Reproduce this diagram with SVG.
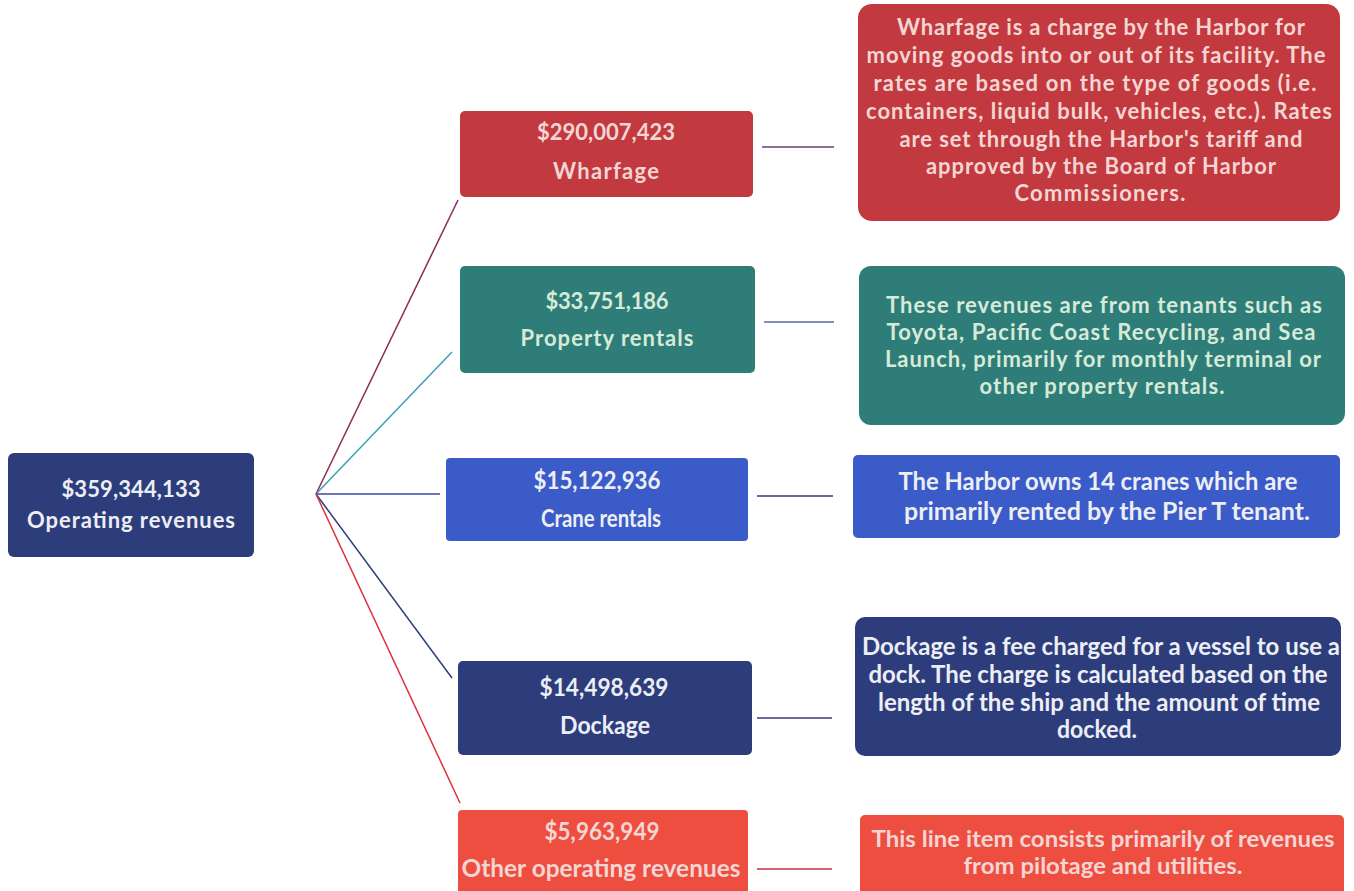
<svg xmlns="http://www.w3.org/2000/svg" width="1354" height="891" viewBox="0 0 1354 891">
<style>
text{font-family:Lato,"Open Sans","Liberation Sans",sans-serif;font-weight:bold;text-anchor:middle;fill:#eceef4}
.m{font-size:22px}
.d{font-size:22px}
.c{font-size:24px}
.s{font-size:22px}
.red{fill:#c23a3f}
.teal{fill:#2f7d78}
.blue{fill:#3a5bc8}
.navy{fill:#2d3d7c}
.orange{fill:#ee4e40}
.tr{fill:#f3d6d3}
.tt{fill:#d6ead8}
.conn line{stroke-width:1.5}
</style>
<rect width="1354" height="891" fill="#ffffff"/>
<g class="conn">
<line x1="316" y1="494" x2="458" y2="200" stroke="#8a2a55"/>
<line x1="316" y1="494" x2="452" y2="352" stroke="#3aa0b0"/>
<line x1="316" y1="494" x2="440" y2="494" stroke="#3a4aa0"/>
<line x1="316" y1="494" x2="452" y2="678" stroke="#2d3d7c"/>
<line x1="316" y1="494" x2="460" y2="803" stroke="#e03040"/>
<line x1="762" y1="147" x2="834" y2="147" stroke="#6b3a7a"/>
<line x1="764" y1="322" x2="834" y2="322" stroke="#5a6aa0"/>
<line x1="757" y1="496" x2="833" y2="496" stroke="#2d3d7c"/>
<line x1="757" y1="718" x2="832" y2="718" stroke="#3a3a80"/>
<line x1="757" y1="869" x2="832" y2="869" stroke="#c03040"/>
</g>
<g id="root">
<rect x="8" y="453" width="246" height="104" rx="6" class="navy"/>
<text x="131" y="497" class="m" textLength="139">$359,344,133</text>
<text x="131" y="528" class="m" textLength="208">Operating revenues</text>
</g>
<g id="wharfage">
<rect x="460" y="111" width="293" height="86" rx="5" class="red"/>
<text x="606" y="140" class="m tr" textLength="138">$290,007,423</text>
<text x="606" y="179" class="m tr" textLength="106">Wharfage</text>
</g>
<g id="property">
<rect x="460" y="266" width="295" height="107" rx="5" class="teal"/>
<text x="607" y="309" class="m tt" textLength="123">$33,751,186</text>
<text x="607" y="346" class="m tt" textLength="173">Property rentals</text>
</g>
<g id="crane">
<rect x="446" y="458" width="302" height="83" rx="4" class="blue"/>
<text x="597" y="489" class="c" textLength="127" lengthAdjust="spacingAndGlyphs">$15,122,936</text>
<text x="601" y="527" class="c" textLength="120" lengthAdjust="spacingAndGlyphs">Crane rentals</text>
</g>
<g id="dockage">
<rect x="458" y="661" width="294" height="94" rx="5" class="navy"/>
<text x="604" y="696" class="c" textLength="129" lengthAdjust="spacingAndGlyphs">$14,498,639</text>
<text x="605" y="734" class="c" textLength="90" lengthAdjust="spacingAndGlyphs">Dockage</text>
</g>
<g id="other">
<rect x="458" y="810" width="290" height="90" rx="4" class="orange"/>
<text x="602" y="840" class="c tr" textLength="115" lengthAdjust="spacingAndGlyphs">$5,963,949</text>
<text x="601" y="877" class="c tr" textLength="279" lengthAdjust="spacingAndGlyphs">Other operating revenues</text>
</g>
<g id="wharfage-desc">
<rect x="858" y="4" width="482" height="217" rx="14" class="red"/>
<text x="1101" y="35" class="d tr" textLength="408">Wharfage is a charge by the Harbor for</text>
<text x="1096" y="63" class="d tr" textLength="459">moving goods into or out of its facility. The</text>
<text x="1095" y="91" class="d tr" textLength="443">rates are based on the type of goods (i.e.</text>
<text x="1099" y="119" class="d tr" textLength="466">containers, liquid bulk, vehicles, etc.). Rates</text>
<text x="1101" y="147" class="d tr" textLength="403">are set through the Harbor's tariff and</text>
<text x="1101" y="174" class="d tr" textLength="350">approved by the Board of Harbor</text>
<text x="1100" y="201" class="d tr" textLength="171">Commissioners.</text>
</g>
<g id="property-desc">
<rect x="859" y="266" width="486" height="159" rx="12" class="teal"/>
<text x="1104" y="313" class="d tt" textLength="436">These revenues are from tenants such as</text>
<text x="1101" y="340" class="d tt" textLength="429">Toyota, Pacific Coast Recycling, and Sea</text>
<text x="1103" y="367" class="d tt" textLength="436">Launch, primarily for monthly terminal or</text>
<text x="1102" y="394" class="d tt" textLength="245">other property rentals.</text>
</g>
<g id="crane-desc">
<rect x="853" y="455" width="487" height="83" rx="5" class="blue"/>
<text x="1098" y="490" class="c" textLength="399" lengthAdjust="spacingAndGlyphs">The Harbor owns 14 cranes which are</text>
<text x="1107" y="520" class="c" textLength="406" lengthAdjust="spacingAndGlyphs">primarily rented by the Pier T tenant.</text>
</g>
<g id="dockage-desc">
<rect x="855" y="617" width="486" height="139" rx="10" class="navy"/>
<text x="1101" y="655" class="c" textLength="478" lengthAdjust="spacingAndGlyphs">Dockage is a fee charged for a vessel to use a</text>
<text x="1098" y="683" class="c" textLength="459" lengthAdjust="spacingAndGlyphs">dock. The charge is calculated based on the</text>
<text x="1099" y="711" class="c" textLength="442" lengthAdjust="spacingAndGlyphs">length of the ship and the amount of time</text>
<text x="1097" y="738" class="c" textLength="80" lengthAdjust="spacingAndGlyphs">docked.</text>
</g>
<g id="other-desc">
<rect x="860" y="815" width="484" height="85" rx="5" class="orange"/>
<text x="1103" y="847" class="s tr" textLength="463" lengthAdjust="spacingAndGlyphs">This line item consists primarily of revenues</text>
<text x="1103" y="874" class="s tr" textLength="279" lengthAdjust="spacingAndGlyphs">from pilotage and utilities.</text>
</g>
</svg>
